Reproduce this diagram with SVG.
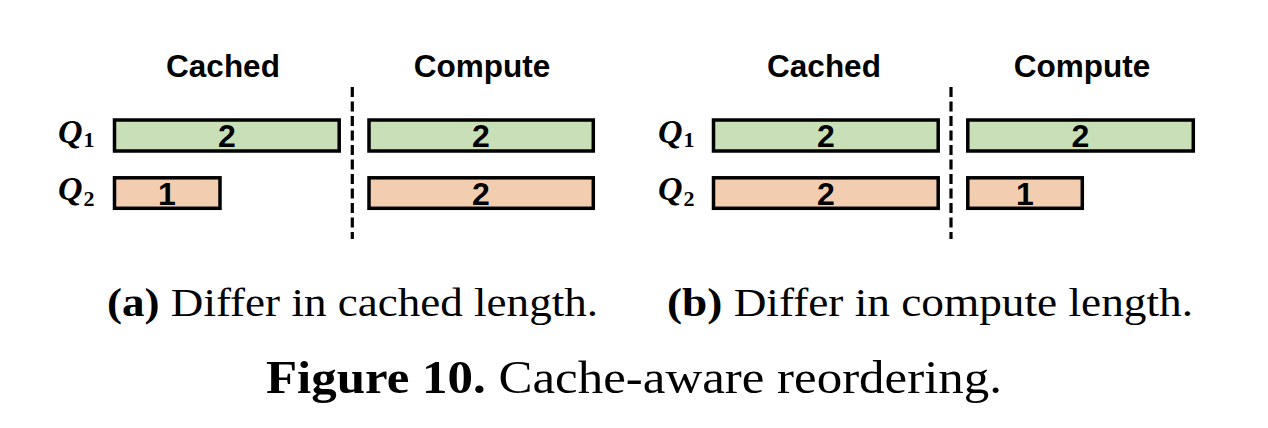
<svg xmlns="http://www.w3.org/2000/svg" width="1268" height="428" viewBox="0 0 1268 428">
<style>
.g{fill:#C9DFB7;stroke:#000;stroke-width:3.5}
.o{fill:#F2CDB0;stroke:#000;stroke-width:3.5}
.hd{font-family:"Liberation Sans",Arial,sans-serif;font-weight:bold;font-size:31.5px;text-anchor:middle;fill:#000}
.num{font-family:"Liberation Sans",Arial,sans-serif;font-weight:bold;font-size:32px;text-anchor:middle;fill:#000}
.q{font-family:"Liberation Serif","Times New Roman",serif;font-weight:bold;font-style:italic;font-size:34px;fill:#000}
.qs{font-family:"Liberation Serif","Times New Roman",serif;font-weight:bold;font-style:normal;font-size:22px;fill:#000}
.cap{font-family:"Liberation Serif","Times New Roman",serif;font-size:39px;fill:#000}
.fig{font-family:"Liberation Serif","Times New Roman",serif;font-size:46px;fill:#000}
.dash{stroke:#000;stroke-width:3.2;stroke-dasharray:10 4.5;fill:none}
</style>
<g id="panel-a">
  <text class="hd" x="223" y="77">Cached</text>
  <text class="hd" x="482" y="77">Compute</text>
  <g id="a-q1-label"><text class="q" x="58" y="143">Q<tspan class="qs" dx="1" dy="4">1</tspan></text></g>
  <g id="a-q2-label"><text class="q" x="58" y="200">Q<tspan class="qs" dx="1" dy="6">2</tspan></text></g>
  <g id="a-q1-cached"><rect class="g" x="114.5" y="120" width="224.7" height="31"/><text class="num" x="227" y="147">2</text></g>
  <g id="a-q2-cached"><rect class="o" x="114.5" y="177.8" width="105.5" height="30.5"/><text class="num" x="167" y="205">1</text></g>
  <g id="a-q1-compute"><rect class="g" x="369" y="120" width="224.3" height="31"/><text class="num" x="481" y="147">2</text></g>
  <g id="a-q2-compute"><rect class="o" x="369" y="177.8" width="224.3" height="30.5"/><text class="num" x="481" y="205">2</text></g>
  <text class="cap" x="107" y="316" textLength="491" lengthAdjust="spacingAndGlyphs"><tspan font-weight="bold">(a)</tspan> Differ in cached length.</text>
</g>
<g id="panel-b">
  <text class="hd" x="824" y="77">Cached</text>
  <text class="hd" x="1082" y="77">Compute</text>
  <g id="b-q1-label"><text class="q" x="658" y="143">Q<tspan class="qs" dx="1" dy="4">1</tspan></text></g>
  <g id="b-q2-label"><text class="q" x="658" y="200">Q<tspan class="qs" dx="1" dy="6">2</tspan></text></g>
  <g id="b-q1-cached"><rect class="g" x="713.5" y="120" width="224.7" height="31"/><text class="num" x="826" y="147">2</text></g>
  <g id="b-q2-cached"><rect class="o" x="713.5" y="177.8" width="224.7" height="30.5"/><text class="num" x="826" y="205">2</text></g>
  <g id="b-q1-compute"><rect class="g" x="967.8" y="120" width="225.5" height="31"/><text class="num" x="1080.5" y="147">2</text></g>
  <g id="b-q2-compute"><rect class="o" x="967.8" y="177.8" width="114.5" height="30.5"/><text class="num" x="1025" y="205">1</text></g>
  <text class="cap" x="667" y="316" textLength="526" lengthAdjust="spacingAndGlyphs"><tspan font-weight="bold">(b)</tspan> Differ in compute length.</text>
</g>
<g id="connectors">
  <line class="dash" x1="352.3" y1="87" x2="352.3" y2="239"/>
  <line class="dash" x1="951" y1="87" x2="951" y2="239"/>
</g>
<text class="fig" x="266" y="393" textLength="736" lengthAdjust="spacingAndGlyphs"><tspan font-weight="bold">Figure 10.</tspan> Cache-aware reordering.</text>
</svg>
